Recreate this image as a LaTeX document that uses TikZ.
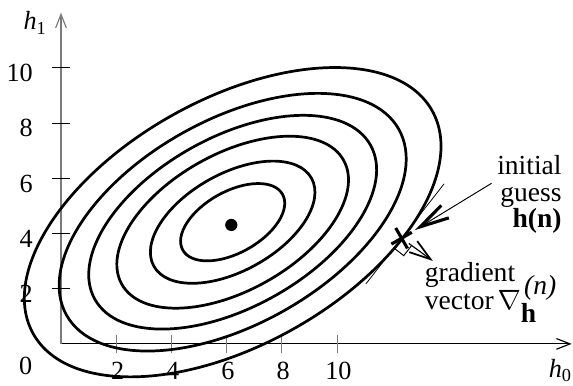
\documentclass[tikz,border=0pt]{standalone}
\usepackage{fontspec}
\setmainfont{Liberation Serif}
\usetikzlibrary{arrows.meta,shapes.misc}
\definecolor{AxisGray}{HTML}{7A7A7A}
\definecolor{Ink}{HTML}{000000}
\tikzset{
  contour/.style={Ink,line width=1.4pt},
  axisline/.style={line width=0.6pt,-{Straight Barb[length=7pt,width=5.5pt]}},
  ticklab/.style={inner sep=0pt},
  notelab/.style={inner sep=0pt,font=\fontsize{14.2}{13.8}\selectfont},
  guessarrow/.style={line width=0.5pt,shorten >=2pt,
    -{Straight Barb[length=15pt,width=7.5pt,line width=1.6pt]}},
  gradarrow/.style={line width=0.6pt,
    -{Straight Barb[length=11pt,width=7pt,line width=0.9pt]}}
}

\begin{document}
\begin{tikzpicture}[x=0.5cm,y=0.5cm,font=\fontsize{13.5}{13.6}\selectfont]
  \useasboundingbox (-2.21,-1.49) rectangle (18.55,12.46);
  % axes
  \coordinate (o) at (0,0);
  \coordinate (xend) at (18.5,0);
  \coordinate (yend) at (0,12.0);
  \draw[axisline] (o) -- (xend);
  \draw[axisline,AxisGray] (o) -- (yend);
  \foreach \t in {2,4,...,10} {
    \draw[AxisGray,line width=0.5pt] (\t,-0.34) -- (\t,0.34);
    \draw[line width=0.5pt] (-0.34,\t) -- (0.34,\t);
    \node[ticklab,anchor=base] (xl\t) at (\t+0.05,-1.3) {\t};
    \node[ticklab,anchor=base east] (yl\t) at (-1.01,\t-0.5) {\t};
  }
  \node[ticklab,anchor=base east] (yl0) at (-1.03,-1.12) {0};
  \node[ticklab,anchor=base west] (h1lab) at (-1.37,11.38) {\textit{h}\textsubscript{1}};
  \node[ticklab,anchor=base west] (h0lab) at (17.66,-1.22) {\textit{h}\textsubscript{0}};

  % contours of the error surface
  \coordinate (ctr) at (6.22,4.41);
  \foreach \s in {1,0.833,0.691,0.556,0.395,0.25} {
    \pgfmathsetmacro\rx{8.28*\s}
    \pgfmathsetmacro\ry{4.45*\s}
    \draw[contour,rotate around={29.2:(ctr)}] (ctr) ellipse [x radius=\rx, y radius=\ry];
  }
  \node[circle,fill=Ink,inner sep=0pt,minimum size=6.3pt] (hmin) at (6.17,4.31) {};

  % initial guess and gradient
  \node[draw,cross out,line width=1.6pt,minimum size=7pt,inner sep=0pt,rotate=-15] (hnx) at (12.34,3.83) {};
  \path (hnx.center) ++(232:2.1) coordinate (tanA);
  \path (hnx.center) ++(52:2.5) coordinate (tanB);
  \draw[line width=0.4pt] (tanA) -- (tanB);
  \draw[line width=0.5pt] (hnx.center) ++(232:0.45) -- ++(-38:0.45) -- ++(52:0.45);
  \path (hnx.center) ++(-36:1.4) coordinate (gtip);
  \draw[gradarrow] (hnx) -- (gtip);

  \node[notelab,anchor=north east,align=right] (guesslab) at (18.15,6.85)
    {initial\\guess\\\textbf{h(n)}};
  \coordinate (igtail) at (15.6,5.82);
  \draw[guessarrow] (igtail) -- (hnx);
  \node[notelab,anchor=north west,align=left,font=\fontsize{14.2}{14.8}\selectfont] (gradlab) at (13.17,2.98)
    {gradient\\vector\hspace{2pt}$\smash{\nabla^{\,\textit{(n)}}_{\textbf{h}}}$};
\end{tikzpicture}
\end{document}
